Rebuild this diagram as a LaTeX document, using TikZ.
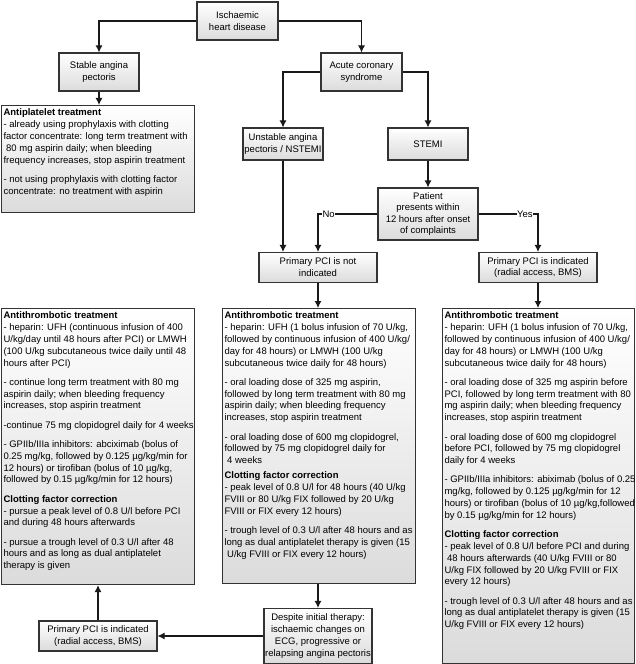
\documentclass[tikz,border=0pt]{standalone}
\usepackage{fontspec}
\setmainfont{Liberation Sans}
\usetikzlibrary{arrows.meta}
\newcommand\diagfont{\fontsize{9.5bp}{11.8bp}\selectfont}
\newcommand\boxtext[3]{\begin{minipage}[t][#2][t]{#1}\begin{tabular}[t]{@{}l@{}}#3\end{tabular}\end{minipage}}
\newcommand\gap{\\[7.5bp]}
\newcommand\ind{\hspace*{0.28em}}
\tikzset{
  box/.style={draw=black!80, line width=1.1bp, top color=white, bottom color=black!14,
    inner sep=0pt, align=center, font=\diagfont},
  bigbox/.style={draw=black!80, line width=1.1bp, top color=white, bottom color=black!14,
    inner sep=2bp, anchor=north west, font=\diagfont},
  conn/.style={draw=black!90, line width=1.1bp, -{Latex[length=7bp,width=7bp]}},
  lab/.style={fill=white, inner sep=0.6bp, font=\diagfont}
}
\begin{document}
\begin{tikzpicture}[x=1bp,y=-1bp]
\useasboundingbox (0,0) rectangle (636,664);

% small boxes
\node[box, minimum width=81bp, minimum height=38bp] (ihd) at (237.5,21) {Ischaemic\\heart disease};
\node[box, minimum width=80bp, minimum height=38bp] (stable) at (99,72) {Stable angina\\pectoris};
\node[box, minimum width=81bp, minimum height=38bp] (acute) at (361.5,72) {Acute coronary\\syndrome};
\node[box, minimum width=80bp, minimum height=32bp] (unstable) at (283,144) {Unstable angina\\pectoris / NSTEMI};
\node[box, minimum width=80bp, minimum height=32bp] (stemi) at (428,144) {STEMI};
\node[box, minimum width=100bp, minimum height=52bp, font=\fontsize{9.5bp}{11.6bp}\selectfont] (patient) at (428,214) {Patient\\presents within\\12 hours after onset\\of complaints};
\node[box, minimum width=118bp, minimum height=30bp] (pcinot) at (318,267.5) {Primary PCI is not\\indicated};
\node[box, minimum width=118bp, minimum height=30bp] (pcii) at (538,267.5) {Primary PCI is indicated\\(radial access, BMS)};
\node[box, minimum width=108bp, minimum height=55bp, font=\fontsize{9.5bp}{11.8bp}\selectfont] (despite) at (318,636) {Despite initial therapy:\\ischaemic changes on\\ECG, progressive or\\relapsing angina pectoris};
\node[box, minimum width=118bp, minimum height=30bp] (pcibl) at (98,636) {Primary PCI is indicated\\(radial access, BMS)};

% big boxes
\node[bigbox] (antiplatelet) at (1,105) {\boxtext{189bp}{103bp}{%
\textbf{Antiplatelet treatment}\\
- already using prophylaxis with clotting\\
factor concentrate: long term treatment with\\
\ind 80 mg aspirin daily; when bleeding\\
frequency increases, stop aspirin treatment\gap
- not using prophylaxis with clotting factor\\
concentrate: no treatment with aspirin}};

\node[bigbox] (leftbox) at (1,308) {\boxtext{189bp}{272bp}{%
\textbf{Antithrombotic treatment}\\
- heparin: UFH (continuous infusion of 400\\
U/kg/day until 48 hours after PCI) or LMWH\\
(100 U/kg subcutaneous twice daily until 48\\
hours after PCI)\gap
- continue long term treatment with 80 mg\\
aspirin daily; when bleeding frequency\\
increases, stop aspirin treatment\gap
-continue 75 mg clopidogrel daily for 4 weeks\gap
- GPIIb/IIIa inhibitors: abciximab (bolus of\\
0.25 mg/kg, followed by 0.125 µg/kg/min for\\
12 hours) or tirofiban (bolus of 10 µg/kg,\\
followed by 0.15 µg/kg/min for 12 hours)\gap
\textbf{Clotting factor correction}\\
- pursue a peak level of 0.8 U/l before PCI\\
and during 48 hours afterwards\gap
- pursue a trough level of 0.3 U/l after 48\\
hours and as long as dual antiplatelet\\
therapy is given}};

\node[bigbox] (midbox) at (222,308) {\boxtext{189bp}{271bp}{%
\textbf{Antithrombotic treatment}\\
- heparin: UFH (1 bolus infusion of 70 U/kg,\\
followed by continuous infusion of 400 U/kg/\\
day for 48 hours) or LMWH (100 U/kg\\
subcutaneous twice daily for 48 hours)\gap
- oral loading dose of 325 mg aspirin,\\
followed by long term treatment with 80 mg\\
aspirin daily; when bleeding frequency\\
increases, stop aspirin treatment\gap
- oral loading dose of 600 mg clopidogrel,\\
followed by 75 mg clopidogrel daily for\\
\ind 4 weeks\\[3.5bp]
\textbf{Clotting factor correction}\\
- peak level of 0.8 U/l for 48 hours (40 U/kg\\
FVIII or 80 U/kg FIX followed by 20 U/kg\\
FVIII or FIX every 12 hours)\gap
- trough level of 0.3 U/l after 48 hours and as\\
long as dual antiplatelet therapy is given (15\\
\ind U/kg FVIII or FIX every 12 hours)}};

\node[bigbox] (rightbox) at (442,308) {\boxtext{188bp}{351bp}{%
\textbf{Antithrombotic treatment}\\
- heparin: UFH (1 bolus infusion of 70 U/kg,\\
followed by continuous infusion of 400 U/kg/\\
day for 48 hours) or LMWH (100 U/kg\\
subcutaneous twice daily for 48 hours)\gap
- oral loading dose of 325 mg aspirin before\\
PCI, followed by long term treatment with 80\\
mg aspirin daily; when bleeding frequency\\
increases, stop aspirin treatment\gap
- oral loading dose of 600 mg clopidogrel\\
before PCI, followed by 75 mg clopidogrel\\
daily for 4 weeks\gap
- GPIIb/IIIa inhibitors: abiximab (bolus of 0.25\\
mg/kg, followed by 0.125 µg/kg/min for 12\\
hours) or tirofiban (bolus of 10 µg/kg,followed\\
by 0.15 µg/kg/min for 12 hours)\gap
\textbf{Clotting factor correction}\\
- peak level of 0.8 U/l before PCI and during\\
\ind 48 hours afterwards (40 U/kg FVIII or 80\\
U/kg FIX followed by 20 U/kg FVIII or FIX\\
every 12 hours)\gap
- trough level of 0.3 U/l after 48 hours and as\\
long as dual antiplatelet therapy is given (15\\
U/kg FVIII or FIX every 12 hours)}};

% connectors
\draw[conn] (ihd.west) -| (stable.north);
\draw[conn] (ihd.east) -| (acute.north);
\draw[conn] (stable.south) -- (stable.south |- antiplatelet.north);
\draw[conn] (acute.west) -| (unstable.north);
\draw[conn] (acute.east) -| (stemi.north);
\draw[conn] (stemi.south) -- (patient.north);
\draw[conn] (unstable.south) -- (unstable.south |- pcinot.north);
\draw[conn] (patient.west) -| node[lab, pos=0.41] {No} (pcinot.north);
\draw[conn] (patient.east) -| node[lab, pos=0.39] {Yes} (pcii.north);
\draw[conn] (pcinot.south) -- (pcinot.south |- midbox.north);
\draw[conn] (pcii.south) -- (pcii.south |- rightbox.north);
\draw[conn] (despite.north |- midbox.south) -- (despite.north);
\draw[conn] (despite.west) -- (pcibl.east);
\draw[conn] (pcibl.north) -- (pcibl.north |- leftbox.south);
\end{tikzpicture}
\end{document}
